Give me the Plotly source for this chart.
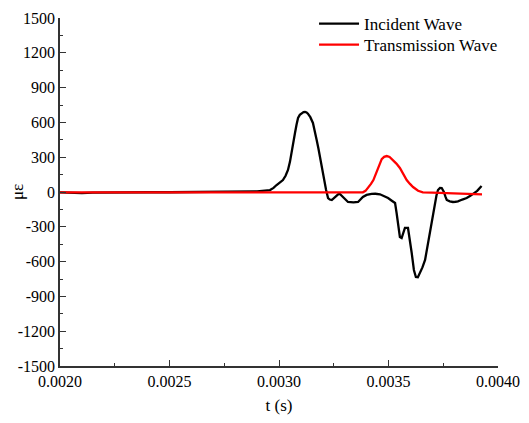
import plotly.graph_objects as go

# Incident wave (black)
t_inc = [0.00200, 0.00205, 0.00210, 0.00215, 0.00220, 0.00230, 0.00240, 0.00250, 0.00260,
         0.00270, 0.00280, 0.00290, 0.002959, 0.002975, 0.002989, 0.003005, 0.003018,
         0.003030, 0.003041, 0.003050, 0.003058, 0.003066, 0.003073, 0.003080, 0.003087,
         0.003095, 0.003104, 0.003112, 0.003119, 0.003126, 0.003132, 0.003143, 0.003155,
         0.003164, 0.003172, 0.003180, 0.003187, 0.003194, 0.003201, 0.003208, 0.003215,
         0.003224, 0.003232, 0.003241, 0.003250, 0.003260, 0.003270, 0.003278, 0.003292,
         0.003304, 0.003315, 0.003340, 0.003361, 0.003383, 0.003400, 0.003423, 0.003440,
         0.003461, 0.003480, 0.003498, 0.003515, 0.003530, 0.003537, 0.003545, 0.003552,
         0.003560, 0.003567, 0.003575, 0.003589, 0.003598, 0.003606, 0.003616, 0.003625,
         0.003634, 0.003644, 0.003655, 0.003667, 0.003680, 0.003689, 0.003697, 0.003705,
         0.003712, 0.003719, 0.003726, 0.003735, 0.003743, 0.003753, 0.003760, 0.003766,
         0.003780, 0.003794, 0.003806, 0.003817, 0.003837, 0.003857, 0.003872, 0.003886,
         0.003905, 0.003925]
v_inc = [-3, -6, -10, -6, -4, -3, -2, -2, -1,
         0, 2, 6, 17, 35, 60, 80, 103,
         140, 190, 260, 336, 430, 508, 580, 638,
         665, 678, 688, 690, 686, 675, 645, 595,
         530, 448, 375, 302, 225, 147, 80, 17,
         -52, -65, -69, -55, -40, -20, -17, -43,
         -70, -86, -90, -86, -43, -25, -17, -15,
         -20, -35, -52, -75, -95, -181, -300, -388,
         -397, -350, -310, -310, -414, -526, -672, -733,
         -735, -698, -650, -586, -440, -350, -267, -180,
         -95, -30, 17, 35, 34, 0, -40, -69,
         -80, -86, -84, -80, -65, -52, -35, -17,
         10, 52]

# Transmission wave (red)
t_tra = [0.00200, 0.00250, 0.00300, 0.00330, 0.003350, 0.003370, 0.003383, 0.003395,
         0.003407, 0.003420, 0.003431, 0.003443, 0.003453, 0.003469, 0.003480, 0.003492,
         0.003505, 0.003520, 0.003536, 0.003552, 0.003568, 0.003583, 0.003598, 0.003612,
         0.003635, 0.003657, 0.003700, 0.003750, 0.003800, 0.003850, 0.003927]
v_tra = [-3, -3, -3, -4, -8, -6, -3, 10,
         35, 70, 103, 160, 218, 284, 303, 310,
         302, 276, 245, 207, 155, 103, 70, 43,
         11, -3, -5, -8, -11, -14, -20]

y_ticks = [-1500, -1200, -900, -600, -300, 0, 300, 600, 900, 1200, 1500]
y_labels = ["-1500", "-1200", "-900", "-600", "-300", "0", "300", "600", "900", "1200", "1500"]
x_ticks = [0.0020, 0.0025, 0.0030, 0.0035, 0.0040]
x_labels = ["0.0020", "0.0025", "0.0030", "0.0035", "0.0040"]

SERIF = "Times New Roman"
PLOT_H = 348
PLOT_W = 438

fig = go.Figure()
fig.add_trace(go.Scatter(x=t_inc, y=v_inc, mode="lines", name="Incident Wave",
                         line=dict(color="black", width=2.3), legend="legend"))
fig.add_trace(go.Scatter(x=t_tra, y=v_tra, mode="lines", name="Transmission Wave",
                         line=dict(color="#ff0000", width=2.3), legend="legend2"))

font = dict(family=SERIF, size=16, color="black")
axis_common = dict(showline=True, linecolor="#333333", linewidth=1.5, showgrid=False,
                   zeroline=False, ticks="inside", ticklen=6, tickwidth=1.2,
                   tickcolor="#333333", mirror=False, automargin=False,
                   tickfont=dict(family=SERIF, size=16, color="black"))

leg_common = dict(xanchor="left", yanchor="middle", bgcolor="rgba(0,0,0,0)",
                  font=dict(family="Liberation Serif", size=17, color="black"),
                  itemwidth=40)

fig.update_layout(
    width=529, height=423,
    margin=dict(l=60, r=31, t=18, b=57, autoexpand=False),
    paper_bgcolor="white", plot_bgcolor="white",
    font=font,
    showlegend=True,
    legend=dict(x=0.58, y=(366 - 24) / PLOT_H, **leg_common),
    legend2=dict(x=0.58, y=(366 - 45) / PLOT_H, **leg_common),
    xaxis=dict(range=[0.0020, 0.0040], tickvals=x_ticks, ticktext=x_labels,
               title=dict(text="t (s)", standoff=10, font=dict(family=SERIF, size=17)),
               minor=dict(ticks="inside", ticklen=3, dtick=0.00025, tick0=0.002,
                          tickcolor="#333333"),
               **axis_common),
    yaxis=dict(range=[-1500, 1500], tickvals=y_ticks, ticktext=y_labels,
               minor=dict(ticks="inside", ticklen=3, dtick=150, tick0=0,
                          tickcolor="#333333"),
               **axis_common),
    annotations=[dict(text="με", xref="paper", yref="paper",
                      x=-(60 - 17) / PLOT_W, y=0.5, textangle=-90,
                      showarrow=False, xanchor="center", yanchor="middle",
                      font=dict(family=SERIF, size=17, color="black"))],
)

fig.write_html("out.html")
